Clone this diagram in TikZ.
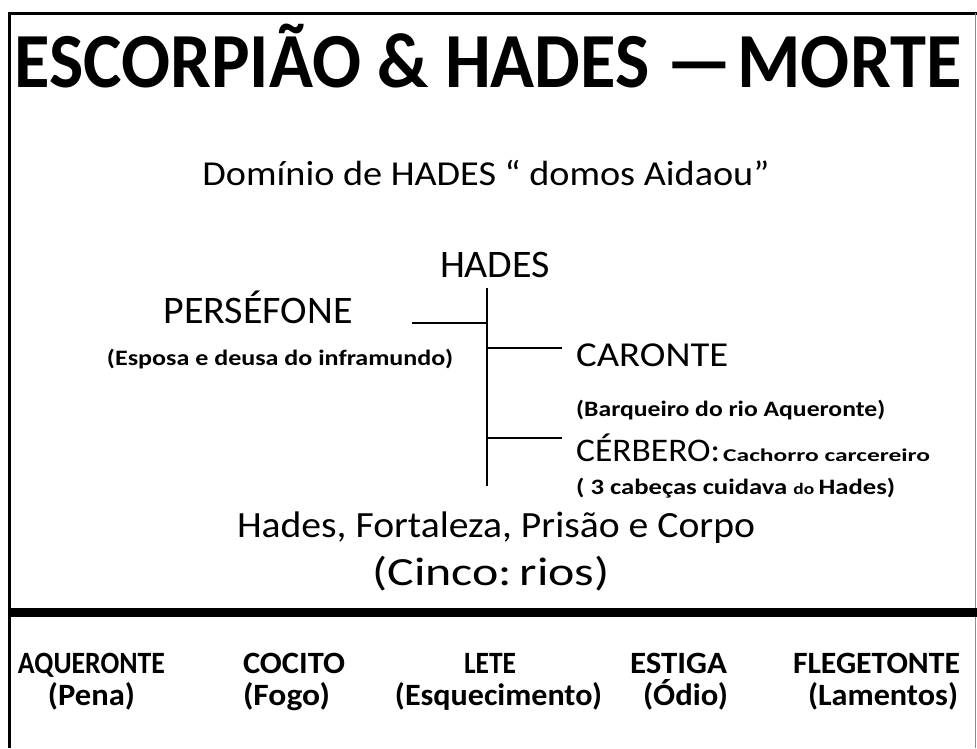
\documentclass[tikz,border=0pt]{standalone}
\usepackage{fontspec}
\usepackage{graphicx}
\setmainfont{Carlito}
\newcommand{\fitw}[2]{\resizebox{#1}{\height}{#2}}
\begin{document}
\begin{tikzpicture}[x=1pt,y=-1pt,
  lbl/.style={inner sep=0pt, anchor=base west},
  ctr/.style={inner sep=0pt, anchor=base},
  river/.style={inner sep=0pt, anchor=base, font=\fontsize{31}{34}\selectfont\bfseries},
  rule/.style={line width=3pt, black},
  branch/.style={line width=2.6pt, black}]
\useasboundingbox (0,0) rectangle (977,748);
% frame
\coordinate (tl) at (9,13);
\coordinate (tr) at (977,13);
\coordinate (bl) at (9,748);
\draw[rule] (tr) -- (tl) -- (bl);
\coordinate (rt) at (975.5,13);
\coordinate (rb) at (975.5,748);
\draw[line width=1pt, black!45] (rt) -- (rb);
\coordinate (sepl) at (9,612);
\coordinate (sepr) at (977,612);
\draw[line width=9pt] (sepl) -- (sepr);
% title
\node[ctr] (title) at (488,87) {\fitw{947pt}{\fontsize{78}{90}\selectfont\bfseries ESCORPIÃO \& HADES —\hspace{0.08em}MORTE}};
\node[ctr] (dominio) at (486,185) {\fitw{567pt}{\fontsize{35}{40}\selectfont Domínio de HADES “ domos Aidaou”}};
% tree
\node[ctr] (hades) at (495,277) {\fitw{110pt}{\fontsize{39}{44}\selectfont HADES}};
\node[ctr] (persefone) at (258,323) {\fitw{189pt}{\fontsize{39}{44}\selectfont PERSÉFONE}};
\node[ctr] (esposa) at (280,365) {\fitw{346pt}{\fontsize{22}{26}\selectfont\bfseries (Esposa e deusa do inframundo)}};
\node[lbl] (caronte) at (576,366) {\fitw{152pt}{\fontsize{35}{40}\selectfont CARONTE}};
\node[lbl] (barqueiro) at (576,416) {\fitw{309pt}{\fontsize{22}{26}\selectfont\bfseries (Barqueiro do rio Aqueronte)}};
\node[lbl] (cerbero) at (576,461) {\fitw{144pt}{\fontsize{33}{38}\selectfont CÉRBERO:}};
\node[lbl] (cachorro) at (723,461) {\fitw{207pt}{\fontsize{18}{22}\selectfont\bfseries Cachorro carcereiro}};
\node[lbl] (cabecas) at (576,494) {\fitw{319pt}{\fontsize{22}{26}\selectfont\bfseries ( 3 cabeças cuidava \fontsize{16}{18}\selectfont do \fontsize{22}{26}\selectfont Hades)}};
\coordinate (vtop) at (487,288);
\coordinate (vbot) at (487,486);
\coordinate (pl) at (412,323);
\coordinate (cl) at (562,348);
\coordinate (bl2) at (562,438);
\draw[branch] (vtop) -- (vbot);
\draw[branch] (pl) -- (pl -| vtop);
\draw[branch] (cl -| vtop) -- (cl);
\draw[branch] (bl2 -| vtop) -- (bl2);
% bottom of upper part
\node[ctr] (fortaleza) at (496,537) {\fitw{518pt}{\fontsize{37}{42}\selectfont Hades, Fortaleza, Prisão e Corpo}};
\node[ctr] (cinco) at (491,585) {\fitw{237pt}{\fontsize{40}{44}\selectfont (Cinco:\hspace{0.15em}rios)}};
% rivers
\node[river] (aq) at (91.5,673) {\fitw{147pt}{AQUERONTE}};
\node[river] (aqs) at (91.5,705) {\fitw{87pt}{(Pena)}};
\node[river] (co) at (294,673) {\fitw{102pt}{COCITO}};
\node[river] (cos) at (286.5,705) {\fitw{87pt}{(Fogo)}};
\node[river] (le) at (490,673) {\fitw{52pt}{LETE}};
\node[river] (les) at (498.5,705) {\fitw{207pt}{(Esquecimento)}};
\node[river] (es) at (678.5,673) {\fitw{97pt}{ESTIGA}};
\node[river] (ess) at (685.5,705) {\fitw{85pt}{(Ódio)}};
\node[river] (fl) at (876.5,673) {\fitw{167pt}{FLEGETONTE}};
\node[river] (fls) at (883,705) {\fitw{150pt}{(Lamentos)}};
\end{tikzpicture}
\end{document}
